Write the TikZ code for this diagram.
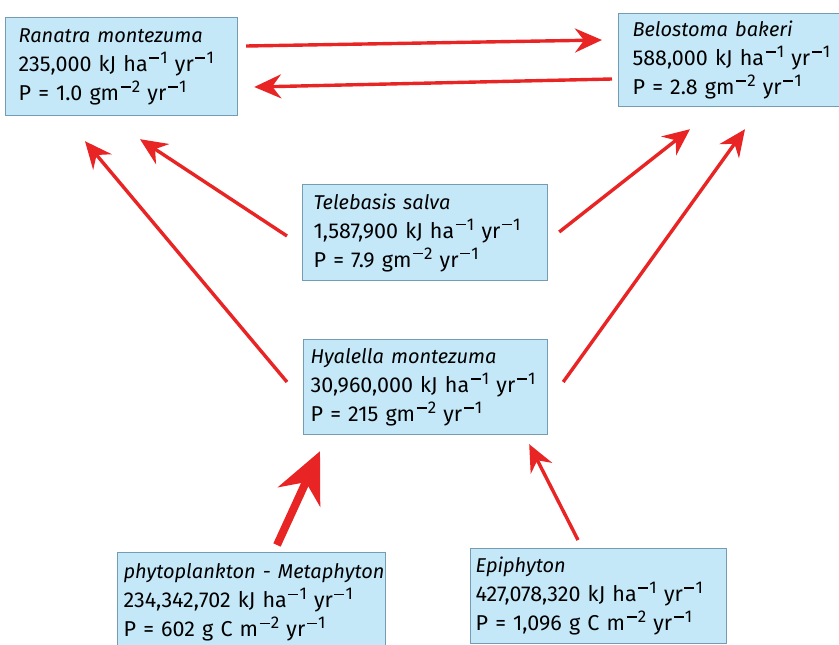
\documentclass[tikz,border=0pt]{standalone}
\usepackage{fontspec}
\setmainfont{Fira Sans}
\usetikzlibrary{arrows.meta}
\definecolor{boxfill}{RGB}{196,232,248}
\definecolor{boxline}{RGB}{116,156,178}
\definecolor{flow}{RGB}{232,36,36}
% raised negative exponent, e.g. ha^-1
\newcommand{\upx}[1]{\kern1.5pt\raisebox{8pt}{\fontsize{17}{17}\selectfont
  \raisebox{4.7pt}{\rule{10pt}{1.5pt}}\kern1.2pt#1}}
\newcommand{\perha}{ kJ ha\upx{1} yr\upx{1}}
\newcommand{\spname}[1]{\mbox{\fontsize{20}{28.5}\selectfont\itshape #1}}
\DeclareRobustCommand{\boxfont}{\fontsize{21.5}{29}\selectfont\spaceskip=3.8pt plus 1pt\relax}
\tikzset{
  taxon/.style={draw=boxline, line width=1.2pt, fill=boxfill, anchor=north west,
    align=left, inner ysep=0pt, font=\boxfont},
  flowarrow/.style={draw=flow, line width=3.4pt,
    -{Stealth[length=27pt, width=24pt, inset=9pt]}},
  bigflow/.style={draw=flow, line width=8pt,
    -{Stealth[length=50pt, width=46pt, inset=16pt]}}
}
\begin{document}
\begin{tikzpicture}[x=1pt, y=-1pt]
  \useasboundingbox (0,0) rectangle (839,645);

  % species boxes
  \node[taxon, inner xsep=13pt, minimum height=98pt, text width=206pt] (ran) at (5,17)
    {\spname{Ranatra montezuma}\\\mbox{235,000\perha}\\\mbox{P = 1.0 gm\upx{2} yr\upx{1}}};
  \node[taxon, inner xsep=14pt, minimum height=93pt, text width=212pt] (bel) at (618,13)
    {\spname{Belostoma bakeri}\\\mbox{588,000\perha}\\\mbox{P = 2.8 gm\upx{2} yr\upx{1}}};
  \node[taxon, inner xsep=11pt, minimum height=96pt, text width=223pt] (tel) at (302,184)
    {\spname{Telebasis salva}\\\mbox{1,587,900\perha}\\\mbox{P = 7.9 gm\upx{2} yr\upx{1}}};
  \node[taxon, inner xsep=7pt, minimum height=95pt, text width=230pt] (hya) at (303,339)
    {\spname{Hyalella montezuma}\\\mbox{30,960,000\perha}\\\mbox{P = 215 gm\upx{2} yr\upx{1}}};
  \node[taxon, inner xsep=6pt, minimum height=100pt, text width=256pt] (phy) at (117,552)
    {\spname{phytoplankton - Metaphyton}\\\mbox{234,342,702\perha}\\\mbox{P = 602 g C m\upx{2} yr\upx{1}}};
  \node[taxon, inner xsep=5pt, minimum height=95pt, text width=246pt] (epi) at (470,548)
    {\spname{Epiphyton}\\\mbox{427,078,320\perha}\\\mbox{P = 1,096 g C m\upx{2} yr\upx{1}}};

  % energy flows
  \draw[flowarrow] ([shift={(8,29)}]ran.north east) -- ([shift={(-16,27)}]bel.north west);
  \draw[flowarrow] ([shift={(-6,66)}]bel.north west) -- ([shift={(16,70)}]ran.north east);
  \draw[flowarrow] ([shift={(-15,52)}]tel.north west) -- ([shift={(135,23)}]ran.south west);
  \draw[flowarrow] ([shift={(-16,43)}]hya.north west) -- ([shift={(80,25)}]ran.south west);
  \draw[flowarrow] ([shift={(11,48)}]tel.north east) -- ([shift={(72,22)}]bel.south west);
  \draw[flowarrow] ([shift={(15,43)}]hya.north east) -- ([shift={(127,22)}]bel.south west);
  \draw[bigflow] ([shift={(160,-7)}]phy.north west) -- ([shift={(17,16)}]hya.south west);
  \draw[flowarrow] ([shift={(108,-8)}]epi.north west) -- ([shift={(-19,9)}]hya.south east);
\end{tikzpicture}
\end{document}
